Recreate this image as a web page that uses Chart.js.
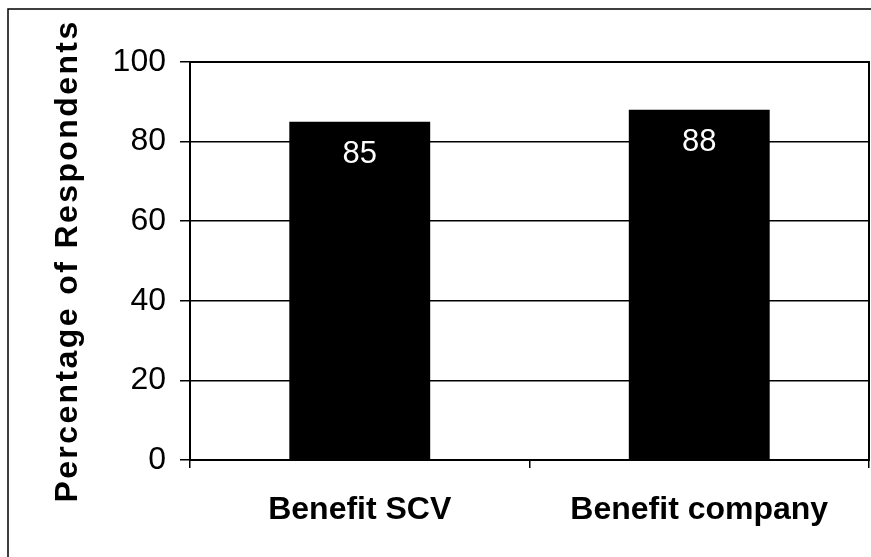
<!DOCTYPE html>
<html>
<head>
<meta charset="utf-8">
<script src="https://cdn.jsdelivr.net/npm/chart.js@4.4.1/dist/chart.umd.min.js"></script>
<style>
  html, body { margin: 0; padding: 0; background: #fff; }
  canvas { display: block; }
</style>
</head>
<body>
<canvas id="c" width="871" height="557"></canvas>
<script>
// Share of respondents who see a benefit, per group
const categories = ['Benefit SCV', 'Benefit company'];
const respondentPct = [85, 88];
const yTickValues = [0, 20, 40, 60, 80, 100];

const FONT = '"Liberation Sans", Arial, Helvetica, sans-serif';

// Outer frame behind everything, plot box and in-bar value labels on top
const framePlugin = {
  id: 'frame',
  beforeDraw(chart) {
    const ctx = chart.ctx;
    ctx.save();
    ctx.fillStyle = '#fff';
    ctx.fillRect(0, 0, chart.width, chart.height);
    ctx.strokeStyle = '#000';
    ctx.lineWidth = 1.5;
    ctx.beginPath();
    ctx.moveTo(8, chart.height);
    ctx.lineTo(8, 9);
    ctx.lineTo(chart.width, 9);
    ctx.stroke();
    ctx.restore();

    // wider tracking for the vertical axis title
    const y = chart.scales.y;
    if (y && !y._tracked) {
      const orig = y.drawTitle;
      y.drawTitle = function () {
        const c = this.ctx;
        c.save();
        c.letterSpacing = '2.4px';
        orig.call(this);
        c.restore();
      };
      y._tracked = true;
    }
  },
  afterDatasetsDraw(chart) {
    const ctx = chart.ctx;
    const a = chart.chartArea;
    ctx.save();
    ctx.strokeStyle = '#000';
    ctx.lineWidth = 2;
    ctx.strokeRect(a.left, a.top, a.right - a.left, a.bottom - a.top);

    const ds = chart.data.datasets[0];
    const meta = chart.getDatasetMeta(0);
    ctx.fillStyle = '#fff';
    ctx.font = '31px ' + FONT;
    ctx.textAlign = 'center';
    ctx.textBaseline = 'middle';
    meta.data.forEach((bar, i) => {
      ctx.fillText(String(ds.data[i]), bar.x, bar.y + 33);
    });
    ctx.restore();
  }
};

new Chart(document.getElementById('c'), {
  type: 'bar',
  data: {
    labels: categories,
    datasets: [{
      data: respondentPct,
      backgroundColor: '#000',
      borderWidth: 0,
      barPercentage: 0.415,
      categoryPercentage: 1.0
    }]
  },
  options: {
    responsive: false,
    devicePixelRatio: 1,
    animation: false,
    events: [],
    layout: { padding: { left: 0, top: 62, right: 2, bottom: 0 } },
    plugins: {
      legend: { display: false },
      tooltip: { enabled: false },
      title: { display: false }
    },
    scales: {
      x: {
        grid: {
          offset: true,
          drawOnChartArea: false,
          drawTicks: true,
          tickLength: 8,
          color: '#000',
          lineWidth: 1.5
        },
        border: { display: false },
        ticks: {
          color: '#000',
          font: { family: FONT, size: 32, weight: 'bold' },
          padding: 23,
          maxRotation: 0
        },
        afterFit(scale) { scale.height = 97; }
      },
      y: {
        min: 0,
        max: 100,
        afterBuildTicks(scale) {
          scale.ticks = yTickValues.map(v => ({ value: v }));
        },
        grid: {
          color: '#000',
          lineWidth: 1.5,
          drawTicks: true,
          tickLength: 10
        },
        border: { display: true, color: '#000', width: 2 },
        ticks: {
          color: '#000',
          font: { family: FONT, size: 32 },
          padding: 14
        },
        title: {
          display: true,
          text: 'Percentage of Respondents',
          color: '#000',
          font: { family: FONT, size: 32, weight: 'bold' },
          padding: { top: 49, bottom: 0 }
        },
        afterFit(scale) { scale.width = 190; }
      }
    }
  },
  plugins: [framePlugin]
});
</script>
</body>
</html>
